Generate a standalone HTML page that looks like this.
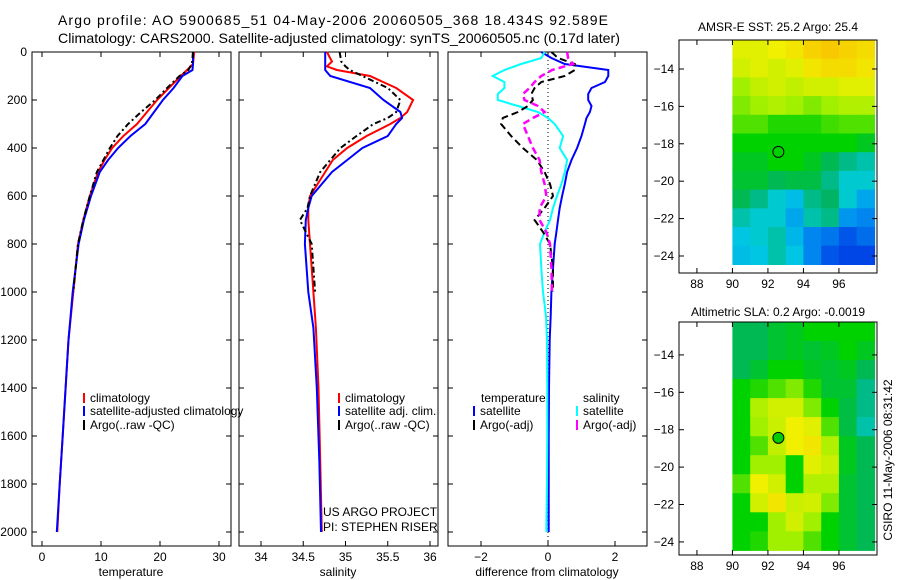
<!DOCTYPE html>
<html><head><meta charset="utf-8"><style>
body{margin:0;background:#fff;}
svg{display:block;font-family:"Liberation Sans",sans-serif;}
</style></head><body>
<svg id="c" width="900" height="580" xmlns="http://www.w3.org/2000/svg">
<text x="58" y="25" font-size="14" textLength="550" lengthAdjust="spacing">Argo profile: AO 5900685_51 04-May-2006 20060505_368 18.434S 92.589E</text>
<text x="58" y="43" font-size="14" textLength="562" lengthAdjust="spacingAndGlyphs">Climatology: CARS2000. Satellite-adjusted climatology: synTS_20060505.nc (0.17d later)</text>
<text x="778" y="31" font-size="12" text-anchor="middle">AMSR-E SST: 25.2 Argo: 25.4</text>
<text x="778" y="316" font-size="12" text-anchor="middle">Altimetric SLA: 0.2 Argo: -0.0019</text>
<text transform="translate(892,460) rotate(-90)" font-size="12" text-anchor="middle">CSIRO 11-May-2006 08:31:42</text>
<text x="323" y="516" font-size="12">US ARGO PROJECT</text>
<text x="323" y="531" font-size="12">PI: STEPHEN RISER</text>
</svg>
<script>
const depthsP=[0,50,75,100,150,200,250,300,350,400,450,500,600,700,800,1000,1200,1400,1600,1800,2000];
const tempClim=[25.8,25.6,24.6,23.5,21.5,19.5,17.8,16.1,13.8,11.9,10.6,9.5,8.1,7.0,6.1,5.3,4.5,4.0,3.5,3.0,2.6];
const tempSat=[25.6,25.6,25.5,23.8,22.3,20.5,19.0,17.5,15.0,12.9,11.2,9.8,8.3,7.1,6.2,5.2,4.5,4.0,3.5,3.0,2.5];
const tempArgo=[25.6,25.4,24.8,23.3,21.2,19.2,16.8,14.6,12.8,11.5,10.4,9.3,8.1,7.0,6.1,5.3,null,null,null,null,null];
const depthsS=[0,40,60,75,100,150,200,250,275,300,350,400,450,500,600,650,700,800,1000,1150,1400,1700,2000];
const salClim=[34.78,34.84,34.78,34.9,35.29,35.6,35.8,35.73,35.65,35.53,35.25,35.02,34.85,34.76,34.58,34.56,34.56,34.58,34.62,34.65,34.68,34.7,34.72];
const salSat=[34.76,34.76,34.76,34.76,34.82,35.29,35.45,35.65,35.67,35.6,35.5,35.2,35.02,34.84,34.6,34.56,34.53,34.52,34.56,34.62,34.66,34.69,34.71];
const salArgo=[34.93,34.95,35.0,35.05,35.2,35.5,35.65,35.6,35.5,35.33,35.13,34.94,34.82,34.7,34.58,34.55,34.46,34.6,34.64,null,null,null,null];
const depthsD=[0,25,50,75,100,125,150,175,200,225,250,275,300,350,400,450,500,550,600,650,700,750,800,900,1000,1100,1200,1400,1600,1800,2000];
const dTempSat=[-0.2,0.1,0.5,1.8,1.8,1.7,1.3,1.2,1.2,1.3,1.25,1.15,1.1,1.0,0.87,0.7,0.57,0.5,0.42,0.35,0.3,0.25,0.2,0.15,0.1,0.08,0.05,0.03,0.02,0.02,0.02];
const dSalSat=[-0.1,-0.2,-0.8,-1.3,-1.65,-1.3,-1.3,-1.5,-1.5,-0.9,-0.3,0.0,0.2,0.45,0.35,0.57,0.5,0.4,0.27,0.15,0.06,-0.1,-0.24,-0.2,-0.15,-0.06,-0.03,-0.02,-0.02,-0.03,-0.05];
const dTempArgo=[0.1,0.3,0.8,0.8,0.5,-0.2,-0.4,-0.5,-0.45,-0.6,-0.9,-1.35,-1.4,-1.1,-0.75,-0.33,-0.1,0.06,0.15,-0.1,-0.4,-0.15,0.06,0.15,0.15,null,null,null,null,null,null];
const dSalArgo=[0.57,0.6,0.75,0.12,-0.2,-0.4,-0.55,-0.75,-0.7,-0.3,-0.1,-0.45,-0.75,-0.6,-0.45,-0.25,-0.2,-0.1,-0.05,-0.25,-0.25,-0.05,0.06,0.1,0.12,null,null,null,null,null,null];
const depthTicks=[0,200,400,600,800,1000,1200,1400,1600,1800,2000];
const tempTicks=[0,10,20,30];
const salTicks=[34,34.5,35,35.5,36];
const diffTicks=[-2,0,2];
const sstGrid=[
[0.68,0.68,0.7,0.72,0.76,0.78,0.76,0.74],
[0.66,0.68,0.66,0.68,0.72,0.74,0.74,0.72],
[0.6,0.64,0.66,0.64,0.66,0.66,0.68,0.68],
[0.58,0.6,0.62,0.6,0.58,0.6,0.62,0.62],
[0.55,0.55,0.52,0.52,0.52,0.54,0.55,0.55],
[0.5,0.5,0.5,0.5,0.5,0.5,0.5,0.48],
[0.48,0.48,0.5,0.5,0.48,0.45,0.42,0.4],
[0.47,0.47,0.45,0.46,0.46,0.42,0.38,0.38],
[0.45,0.42,0.38,0.35,0.42,0.44,0.38,0.32],
[0.4,0.38,0.38,0.32,0.4,0.42,0.3,0.28],
[0.36,0.38,0.4,0.34,0.28,0.26,0.22,0.25],
[0.35,0.36,0.4,0.36,0.28,0.22,0.2,0.2]];
const slaGrid=[
[0.45,0.45,0.47,0.48,0.5,0.5,0.5,0.5],
[0.45,0.45,0.47,0.48,0.47,0.48,0.5,0.48],
[0.45,0.47,0.5,0.5,0.48,0.47,0.48,0.45],
[0.5,0.52,0.55,0.58,0.52,0.47,0.47,0.42],
[0.5,0.62,0.66,0.66,0.58,0.5,0.46,0.42],
[0.5,0.6,0.65,0.7,0.68,0.55,0.46,0.4],
[0.5,0.55,0.64,0.7,0.72,0.62,0.48,0.45],
[0.5,0.6,0.6,0.5,0.68,0.65,0.48,0.45],
[0.55,0.7,0.66,0.5,0.62,0.62,0.47,0.45],
[0.5,0.66,0.72,0.65,0.66,0.58,0.47,0.45],
[0.5,0.5,0.6,0.66,0.6,0.5,0.47,0.45],
[0.5,0.52,0.6,0.6,0.55,0.5,0.47,0.45]];
const lonTicks=[88,90,92,94,96];
const latTicks=[-14,-16,-18,-20,-22,-24];
const argoLon=92.589, argoLat=-18.434;

const NS="http://www.w3.org/2000/svg";
const svg=document.getElementById('c');
function mk(tag,at,parent){const e=document.createElementNS(NS,tag);for(const k in at)e.setAttribute(k,at[k]);(parent||svg).appendChild(e);return e;}
const yD=d=>52+d*0.24;
function panel(x0,name,xs,ticks,label,fmt){
  const g=mk('g',{});
  
  
  const r=mk('rect',{x:x0,y:52,width:199,height:494,fill:'none',stroke:'#000','stroke-width':1},g);
  
  
  depthTicks.forEach(d=>{const y=yD(d);mk('line',{x1:x0,x2:x0+5,y1:y,y2:y,stroke:'#000'},g);mk('line',{x1:x0+199,x2:x0+194,y1:y,y2:y,stroke:'#000'},g);
    if(x0===32){const t=mk('text',{x:27,y:y+4,'font-size':12,'text-anchor':'end'},g);t.textContent=d;}});
  ticks.forEach(v=>{const x=xs(v);mk('line',{x1:x,x2:x,y1:52,y2:57,stroke:'#000'},g);mk('line',{x1:x,x2:x,y1:546,y2:541,stroke:'#000'},g);
    const t=mk('text',{x:x,y:561,'font-size':12,'text-anchor':'middle'},g);t.textContent=fmt(v);});
  const l=mk('text',{x:x0+99,y:576,'font-size':12,'text-anchor':'middle'},g);l.textContent=label;
  
  
  return g;
}
function series(g,xs,depths,vals,color,dash,name,w){
  let d='',pen=false;
  vals.forEach((v,i)=>{if(v===null){pen=false;return;}d+=(pen?'L':'M')+xs(v).toFixed(1)+','+yD(depths[i]).toFixed(1);pen=true;});
  const p=mk('path',{d:d,fill:'none',stroke:color,'stroke-width':w||2,'stroke-dasharray':dash||'none'},g);
  
  
}
function legend(g,x,y,color,text,name){
  mk('line',{x1:x,x2:x,y1:y-9,y2:y+1,stroke:color,'stroke-width':2},g);
  const t=mk('text',{x:x+6,y:y,'font-size':12},g);t.textContent=text;
  
  
}
const xT=v=>42+5.9*v, xS=v=>261+84.5*(v-34), xDf=v=>548+33.5*v;
const g1=panel(32,'temperature-panel',xT,tempTicks,'temperature',v=>v);
series(g1,xT,depthsP,tempClim,'#f00',null,'temp-climatology-line');
series(g1,xT,depthsP,tempSat,'#00f',null,'temp-satellite-line');
series(g1,xT,depthsP,tempArgo,'#000','6,3,2,3','temp-argo-line');
legend(g1,84,402,'#f00','climatology','legend-climatology');
legend(g1,84,415,'#00f','satellite-adjusted climatology','legend-satellite-adjusted');
legend(g1,84,429,'#000','Argo(..raw -QC)','legend-argo');
const g2=panel(239,'salinity-panel',xS,salTicks,'salinity',v=>v);
series(g2,xS,depthsS,salClim,'#f00',null,'sal-climatology-line');
series(g2,xS,depthsS,salSat,'#00f',null,'sal-satellite-line');
series(g2,xS,depthsS,salArgo,'#000','6,3,2,3','sal-argo-line');
legend(g2,339,402,'#f00','climatology','legend-climatology-sal');
legend(g2,339,415,'#00f','satellite adj. clim.','legend-satellite-sal');
legend(g2,339,429,'#000','Argo(..raw -QC)','legend-argo-sal');
const g3=panel(448,'difference-panel',xDf,diffTicks,'difference from climatology',v=>v<0?'\u2212'+(-v):v);
mk('line',{x1:xDf(0),x2:xDf(0),y1:52,y2:546,stroke:'#000','stroke-dasharray':'1,3'},g3);
series(g3,xDf,depthsD,dTempSat,'#00f',null,'diff-temp-satellite-line');
series(g3,xDf,depthsD,dSalSat,'#0ff',null,'diff-sal-satellite-line');
series(g3,xDf,depthsD,dTempArgo,'#000','7,4','diff-temp-argo-line');
series(g3,xDf,depthsD,dSalArgo,'#f0f','7,4','diff-sal-argo-line',2.5);
const tl=mk('text',{x:481,y:402,'font-size':12},g3);tl.textContent='temperature';


const sl=mk('text',{x:583,y:402,'font-size':12},g3);sl.textContent='salinity';


legend(g3,474,415,'#00f','satellite','legend-diff-temp-sat');
legend(g3,474,429,'#000','Argo(-adj)','legend-diff-temp-argo');
legend(g3,577,415,'#0ff','satellite','legend-diff-sal-sat');
legend(g3,577,429,'#f0f','Argo(-adj)','legend-diff-sal-argo');

const stops=[[0,[0,0,150]],[0.2,[0,70,230]],[0.3,[0,150,240]],[0.37,[0,205,225]],[0.44,[0,180,100]],[0.5,[0,210,0]],[0.6,[160,240,0]],[0.7,[240,240,0]],[0.8,[250,190,0]],[1,[220,60,0]]];
function cmap(v){for(let i=1;i<stops.length;i++){if(v<=stops[i][0]){const a=stops[i-1],b=stops[i],t=(v-a[0])/(b[0]-a[0]);return 'rgb('+a[1].map((c,k)=>Math.round(c+(b[1][k]-c)*t)).join(',')+')';}}return 'rgb(220,60,0)';}
function map(yTop,name,grid,latTopVal,filled){
  const g=mk('g',{});
  
  
  const xL=v=>679+(v-86.99)*17.75, yL=v=>yTop+(latTopVal-v)*18.7;
  const lon0=90,lon1=98,lat0=latTopVal,lat1=-24.45;
  const nr=grid.length,nc=grid[0].length;
  const cw=(xL(lon1)-xL(lon0))/nc,ch=(yL(lat1)-yL(lat0))/nr;
  grid.forEach((row,i)=>row.forEach((v,j)=>{
    const c=mk('rect',{x:(xL(lon0)+j*cw).toFixed(1),y:(yL(lat0)+i*ch).toFixed(1),width:(cw+0.6).toFixed(1),height:(ch+0.6).toFixed(1),fill:cmap(v)},g);
    
    
  }));
  mk('rect',{x:679,y:yTop,width:198,height:233,fill:'none',stroke:'#000'},g);
  lonTicks.forEach(v=>{const x=xL(v);mk('line',{x1:x,x2:x,y1:yTop,y2:yTop+5,stroke:'#000'},g);mk('line',{x1:x,x2:x,y1:yTop+233,y2:yTop+228,stroke:'#000'},g);
    const t=mk('text',{x:x,y:yTop+248,'font-size':12,'text-anchor':'middle'},g);t.textContent=v;});
  latTicks.forEach(v=>{const y=yL(v);mk('line',{x1:679,x2:684,y1:y,y2:y,stroke:'#000'},g);mk('line',{x1:877,x2:872,y1:y,y2:y,stroke:'#000'},g);
    const t=mk('text',{x:674,y:y+4,'font-size':12,'text-anchor':'end'},g);t.textContent='\u2212'+(-v);});
  const m=mk('circle',{cx:xL(argoLon),cy:yL(argoLat),r:5.5,fill:filled?'#0c0':'none',stroke:'#000','stroke-width':1},g);
  
  
}
map(40,'sst-map',sstGrid,-12.45,false);
map(322,'sla-map',slaGrid,-12.24,true);
</script>
</body></html>
